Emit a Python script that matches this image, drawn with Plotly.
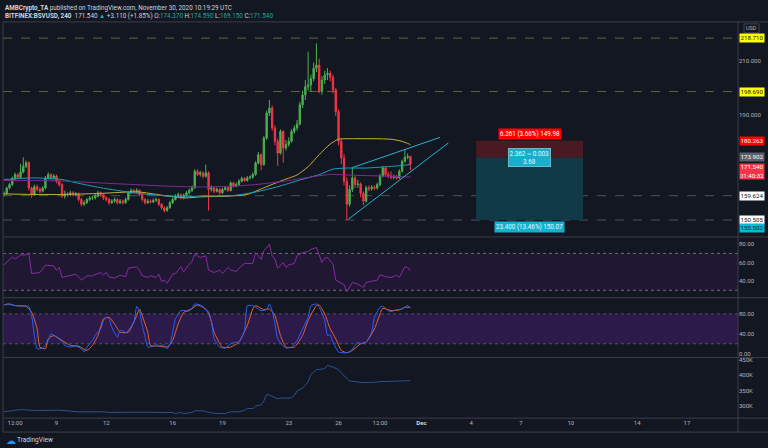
import pandas as pd
import plotly.graph_objects as go

W, H = 768, 448
BG = "#131722"
FONT = "Roboto"
AX = "#b2b5be"
SEP = "#3b3f4a"

# ---------------- data ----------------
closes = [
    160.5, 162.5, 163.8, 166.0, 167.5, 166.5, 168.5, 170.7, 172.0, 162.5,
    160.0, 163.0, 162.0, 161.3, 162.5, 166.3, 167.5, 166.3, 167.0, 165.0,
    163.8, 159.5, 160.3, 160.0, 160.7, 160.0, 160.3, 158.2, 156.4, 157.0,
    158.2, 158.8, 158.8, 159.5, 160.7, 160.0, 158.8, 158.2, 157.0, 157.6,
    158.2, 157.0, 157.6, 157.0, 158.2, 160.7, 161.6, 161.1, 161.6, 160.0,
    158.2, 157.0, 157.6, 157.3, 157.9, 158.2, 156.4, 155.1, 154.1, 155.1,
    157.0, 158.2, 159.5, 160.0, 158.8, 159.8, 160.7, 161.6, 162.6, 168.8,
    167.6, 168.2, 166.9, 168.2, 162.0, 162.6, 161.3, 162.0, 160.7, 162.0,
    162.6, 161.6, 164.4, 163.2, 163.8, 165.1, 166.1, 165.3, 166.3, 166.6,
    167.6, 171.9, 175.0, 171.3, 181.2, 190.6, 192.5, 185.0, 180.0, 175.6,
    183.7, 177.5, 178.8, 180.0, 183.7, 185.0, 186.5, 193.7, 197.4, 200.5,
    201.2, 203.5, 207.4, 208.6, 198.7, 203.0, 204.9, 205.5, 204.0, 199.3,
    191.2, 180.0, 173.8, 165.0, 156.4, 162.0, 166.3, 163.8, 164.0, 160.5,
    157.6, 162.6, 162.2, 162.8, 162.5, 163.8, 167.0, 170.0, 167.6, 167.0,
    166.5, 166.8, 166.3, 168.8, 172.5, 174.0, 174.37, 171.54,
]
highs = [
    161.2, 163.0, 164.5, 166.8, 168.3, 168.0, 171.5, 174.0, 172.8, 172.5,
    163.0, 163.8, 163.8, 162.8, 163.2, 167.0, 168.4, 168.0, 167.8, 167.5,
    165.6, 164.3, 161.5, 161.0, 161.5, 161.3, 161.0, 160.8, 158.8, 157.8,
    158.8, 159.5, 159.6, 160.3, 161.5, 161.2, 160.5, 159.5, 158.8, 158.3,
    159.0, 158.7, 158.4, 158.2, 158.9, 161.3, 162.3, 162.2, 162.4, 162.0,
    160.4, 158.7, 158.4, 158.2, 158.6, 158.9, 158.6, 156.9, 155.6, 155.8,
    157.6, 158.9, 160.2, 160.8, 160.5, 160.4, 161.4, 162.3, 163.4, 169.6,
    169.5, 169.0, 168.8, 171.3, 168.8, 163.5, 163.0, 162.8, 162.4, 162.6,
    163.3, 163.0, 165.0, 164.9, 164.6, 165.8, 166.8, 166.6, 167.0, 167.3,
    168.4, 172.6, 176.0, 175.5, 182.0, 191.5, 195.5, 193.5, 186.0, 181.0,
    184.5, 184.2, 180.5, 181.5, 184.6, 186.0, 188.0, 194.8, 199.0, 203.0,
    213.6, 205.0, 209.5, 216.7, 211.0, 204.5, 206.5, 207.5, 206.5, 205.0,
    200.0, 192.0, 181.0, 175.3, 166.5, 163.5, 170.5, 167.0, 165.5, 164.6,
    161.2, 163.4, 163.5, 163.6, 163.5, 164.5, 167.8, 170.8, 170.6, 168.5,
    168.8, 167.6, 167.4, 169.5, 173.2, 176.9, 175.5, 174.59,
]
lows = [
    159.3, 160.0, 162.0, 163.3, 165.5, 165.8, 166.0, 168.0, 170.0, 161.5,
    158.8, 159.5, 161.3, 160.5, 160.8, 162.0, 165.8, 165.5, 165.9, 164.3,
    163.0, 158.8, 158.5, 159.2, 159.5, 159.4, 159.5, 157.5, 155.6, 155.8,
    156.5, 157.6, 158.0, 158.2, 159.0, 159.3, 158.0, 157.5, 156.2, 156.5,
    157.0, 156.3, 156.5, 156.3, 156.6, 157.8, 160.2, 160.5, 160.6, 159.4,
    157.5, 156.3, 156.5, 156.7, 156.8, 157.3, 155.7, 154.4, 153.4, 153.6,
    154.7, 156.5, 157.8, 159.0, 158.2, 158.3, 159.3, 160.2, 161.0, 162.2,
    167.0, 166.8, 166.2, 166.5, 154.0, 161.2, 160.6, 160.8, 160.0, 160.3,
    161.5, 161.0, 161.2, 162.7, 162.8, 163.4, 164.6, 164.8, 164.9, 165.8,
    166.0, 167.1, 171.4, 169.2, 170.8, 180.6, 189.5, 184.0, 178.5, 170.8,
    175.0, 172.0, 176.5, 178.0, 179.5, 182.8, 184.0, 186.0, 192.5, 195.5,
    199.0, 198.5, 202.5, 206.0, 198.0, 197.5, 201.5, 203.0, 202.5, 198.0,
    189.5, 178.5, 171.5, 163.5, 150.5, 155.5, 161.0, 162.5, 162.6, 159.0,
    156.0, 157.0, 161.3, 161.5, 161.8, 161.9, 163.2, 166.5, 166.8, 166.2,
    165.8, 165.8, 165.7, 165.9, 168.3, 172.0, 173.3, 169.15,
]
first_open = 160.0
opens = [first_open] + closes[:-1]

# moving averages (candle index, value)
ma_yellow_idx = [0, 10, 22, 35, 45, 49, 54, 59, 66, 71, 82, 88, 94, 101, 106, 110, 114, 118, 121, 126, 140, 144, 147]
ma_yellow_val = [160.3, 160.1, 160.1, 160.5, 161.0, 161.0, 160.3, 159.5, 158.8, 159.2, 159.5, 160.1, 162.6,
                 165.5, 167.4, 170.5, 175.0, 179.0, 180.8, 181.0, 180.8, 180.0, 178.8]
ma_teal_idx = [0, 10, 21, 26, 35, 47, 59, 65, 71, 83, 91, 99, 107, 114, 119, 124, 131, 141, 147]
ma_teal_val = [165.7, 166.3, 165.7, 164.5, 162.6, 160.7, 159.5, 159.2, 159.5, 159.7, 161.0, 163.0, 165.5,
               167.5, 169.6, 170.0, 170.0, 170.7, 171.3]
ma_purple_idx = [0, 10, 22, 35, 47, 59, 71, 83, 91, 101, 107, 118, 126, 140, 147]
ma_purple_val = [165.3, 165.3, 165.1, 164.4, 163.8, 163.2, 162.9, 163.2, 163.8, 165.0, 166.0, 167.6, 167.3,
                 166.9, 166.6]

rsi_idx = [0, 2, 3, 4, 6, 8, 9, 10, 13, 15, 18, 19, 20, 21, 24, 26, 28, 30, 32, 35, 36, 37, 38, 40, 42, 44,
           45, 48, 49, 50, 52, 53, 55, 56, 57, 58, 59, 61, 62, 64, 65, 67, 68, 69, 71, 73, 74, 76, 78, 79, 81,
           82, 84, 85, 87, 90, 91, 93, 94, 96, 97, 98, 99, 101, 102, 103, 105, 106, 108, 110, 111, 113, 115,
           116, 117, 119, 120, 122, 123, 124, 126, 128, 130, 131, 133, 135, 136, 138, 140, 142, 143, 145, 146, 147]
rsi_val = [57.3, 63.8, 66.3, 63.8, 68.4, 68.4, 69.9, 48.2, 49.3, 57.3, 56.5, 51.9, 54.7, 43.9, 46.1, 47.5,
           41.0, 45.4, 45.7, 49.3, 46.8, 49.3, 44.6, 43.2, 46.4, 44.6, 54.0, 55.5, 51.9, 45.7, 43.9, 45.7,
           43.9, 47.5, 39.6, 41.0, 37.4, 47.5, 48.2, 55.5, 50.0, 58.3, 60.9, 69.2, 65.6, 67.4, 51.9, 49.3,
           51.9, 48.2, 54.7, 51.9, 50.4, 54.0, 59.1, 59.1, 71.0, 63.7, 72.8, 80.0, 67.4, 63.7, 54.0, 60.1,
           54.7, 57.6, 59.1, 67.4, 71.0, 72.0, 74.6, 76.4, 60.1, 64.8, 65.6, 58.3, 41.0, 37.4, 36.0, 28.4,
           38.5, 36.7, 33.1, 38.5, 39.6, 41.0, 46.8, 44.6, 43.9, 46.4, 43.9, 55.5, 54.7, 51.1]

stoch_k_idx = [0, 1, 3, 6, 9, 10, 11, 12, 14, 16, 17, 19, 21, 22, 24, 26, 28, 29, 30, 32, 33, 35, 36, 37, 38,
               39, 41, 42, 43, 44, 45, 47, 48, 49, 50, 51, 52, 54, 55, 56, 58, 59, 60, 61, 62, 64, 66, 68, 69,
               71, 73, 75, 76, 78, 80, 82, 84, 85, 87, 88, 90, 91, 93, 95, 96, 97, 98, 99, 101, 102, 104, 106,
               108, 110, 111, 113, 114, 116, 117, 118, 119, 121, 123, 125, 127, 128, 129, 131, 133, 134, 136,
               137, 139, 140, 142, 144, 146, 147]
stoch_k_val = [97.9, 100.0, 97.9, 95.3, 95.3, 76.6, 36.6, 9.9, 11.3, 26.6, 39.9, 33.3, 24.6, 16.6, 13.3,
               15.3, 9.9, 3.3, 13.3, 26.6, 36.6, 49.9, 66.6, 73.3, 69.9, 53.3, 33.3, 46.6, 46.6, 41.9, 46.6,
               63.3, 95.0, 86.6, 56.6, 35.0, 13.3, 15.3, 19.9, 15.3, 17.9, 9.9, 17.9, 43.3, 69.9, 86.6, 86.6,
               91.3, 100.0, 97.9, 89.9, 66.6, 29.9, 13.3, 11.3, 19.9, 23.3, 23.3, 46.6, 96.6, 96.6, 93.3,
               86.6, 88.6, 100.0, 86.6, 59.9, 29.9, 15.3, 11.3, 13.3, 26.6, 49.9, 73.3, 96.6, 100.0, 93.3,
               66.6, 36.6, 37.9, 23.3, 3.3, 1.9, 3.3, 16.6, 23.3, 19.9, 23.3, 43.3, 73.3, 93.3, 95.3, 86.6,
               84.6, 88.6, 89.9, 96.6, 91.3]
stoch_d_idx = [0, 2, 4, 8, 10, 12, 13, 15, 16, 18, 21, 24, 27, 30, 32, 34, 36, 38, 40, 42, 45, 48, 49, 50,
               52, 53, 56, 59, 61, 63, 65, 67, 70, 72, 74, 76, 79, 82, 85, 88, 90, 91, 94, 96, 98, 100, 102,
               105, 108, 110, 113, 114, 116, 118, 120, 122, 124, 126, 129, 131, 134, 136, 137, 140, 143, 145, 147]
stoch_d_val = [97.9, 100.0, 96.6, 95.3, 83.3, 49.9, 13.3, 9.9, 29.9, 36.6, 26.6, 16.6, 15.3, 6.6, 16.6,
               36.6, 69.9, 73.3, 59.9, 43.3, 43.3, 76.6, 89.9, 76.6, 43.3, 16.6, 15.3, 13.3, 26.6, 59.9,
               83.3, 86.6, 97.9, 93.3, 83.3, 43.3, 13.3, 13.3, 23.3, 56.6, 89.9, 96.6, 88.6, 89.9, 76.6,
               36.6, 13.3, 13.3, 36.6, 66.6, 96.6, 97.9, 79.9, 49.9, 29.9, 6.6, 1.9, 6.6, 19.9, 23.3, 49.9,
               79.9, 91.3, 86.6, 87.9, 93.3, 93.3]

obv_idx = [0, 2, 4, 6, 9, 13, 20, 24, 27, 36, 38, 47, 61, 62, 64, 65, 68, 69, 72, 74, 77, 80, 82, 85, 87,
           88, 90, 91, 93, 94, 95, 96, 97, 99, 100, 104, 105, 106, 108, 110, 111, 113, 116, 117, 119, 121,
           122, 125, 126, 129, 130, 134, 136, 140, 147]
obv_val = [281.9, 285.1, 287.2, 289.4, 287.2, 286.2, 287.2, 285.1, 281.9, 281.9, 279.8, 280.8, 279.8, 276.6,
           279.8, 276.6, 279.8, 285.1, 285.1, 279.8, 276.6, 276.6, 281.9, 281.9, 287.2, 292.5, 292.5, 300.0,
           304.3, 317.0, 337.2, 336.2, 331.9, 323.4, 325.5, 326.6, 334.0, 348.9, 358.5, 377.7, 402.1, 417.0,
           420.2, 430.8, 425.5, 417.0, 406.4, 380.8, 379.8, 377.7, 375.5, 376.6, 378.7, 379.8, 381.9]

x_tick_dates = ["2020-11-06 12:00", "2020-11-09", "2020-11-12", "2020-11-16", "2020-11-19", "2020-11-23",
                "2020-11-26", "2020-11-28 12:00", "2020-12-01", "2020-12-04", "2020-12-07", "2020-12-10",
                "2020-12-14", "2020-12-17"]
x_tick_text = ["12:00", "9", "12", "16", "19", "23", "26", "12:00",
               "<b><span style='color:#d1d4dc'>Dec</span></b>", "4", "7", "10", "14", "17"]

level_yellow = [218.71, 198.69]
level_gray = [159.624, 150.505]

trend_upper = (["2020-11-26 21:36", "2020-12-02 02:50"], [170.3, 181.5])
trend_lower = (["2020-11-26 14:10", "2020-12-02 14:50"], [150.8, 179.4])

pos_dates = ["2020-12-04 07:00", "2020-12-10 17:45"]
pos_stop, pos_entry, pos_target = 180.263, 173.902, 150.502

# ---------------- helpers ----------------
start = pd.Timestamp("2020-11-05 20:00")


def t(i):
    return start + pd.Timedelta(hours=4 * i)


times = [t(i) for i in range(len(closes))]


def ydom(top, bottom):
    return [1 - bottom / H, 1 - top / H]


X0, X1 = 3 / W, 738 / W

fig = go.Figure()

GREEN = "#4caf50"
RED = "#f23645"

for idx, val, col in [(ma_yellow_idx, ma_yellow_val, "#c3b132"),
                      (ma_teal_idx, ma_teal_val, "#1f9fb3"),
                      (ma_purple_idx, ma_purple_val, "#7f2a94")]:
    fig.add_trace(go.Scatter(x=[t(i) for i in idx], y=val, mode="lines",
                             line=dict(color=col, width=1, shape="spline", smoothing=0.6),
                             xaxis="x", yaxis="y", hoverinfo="skip"))

fig.add_trace(go.Candlestick(
    x=times, open=opens, high=highs, low=lows, close=closes,
    increasing=dict(line=dict(color=GREEN, width=1), fillcolor=GREEN),
    decreasing=dict(line=dict(color=RED, width=1), fillcolor=RED),
    whiskerwidth=0, xaxis="x", yaxis="y"))

fig.add_trace(go.Scatter(x=[t(i) for i in rsi_idx], y=rsi_val, mode="lines",
                         line=dict(color="#8a2aa0", width=1), xaxis="x", yaxis="y2"))
fig.add_trace(go.Scatter(x=[t(i) for i in stoch_d_idx], y=stoch_d_val, mode="lines",
                         line=dict(color="#e8622c", width=1, shape="spline", smoothing=0.5), xaxis="x", yaxis="y3"))
fig.add_trace(go.Scatter(x=[t(i) for i in stoch_k_idx], y=stoch_k_val, mode="lines",
                         line=dict(color="#2962ff", width=1, shape="spline", smoothing=0.4), xaxis="x", yaxis="y3"))
fig.add_trace(go.Scatter(x=[t(i) for i in obv_idx], y=[v * 1000 for v in obv_val], mode="lines",
                         line=dict(color="#2a5290", width=1), xaxis="x", yaxis="y4"))

shapes = []
# RSI band
shapes.append(dict(type="rect", xref="x domain", x0=0, x1=1, yref="y2", y0=30, y1=70,
                   fillcolor="#201833", line_width=0, layer="below"))
for v in (70, 30):
    shapes.append(dict(type="line", xref="x domain", x0=0, x1=1, yref="y2", y0=v, y1=v,
                       line=dict(color="#6a6d78", width=1, dash="dot"), layer="below"))
# Stoch band
shapes.append(dict(type="rect", xref="x domain", x0=0, x1=1, yref="y3", y0=20, y1=80,
                   fillcolor="#2c1a4b", line_width=0, layer="below"))
for v in (80, 20):
    shapes.append(dict(type="line", xref="x domain", x0=0, x1=1, yref="y3", y0=v, y1=v,
                       line=dict(color="#5a4c6e", width=1, dash="dot"), layer="below"))
# position tool
shapes.append(dict(type="rect", xref="x", x0=pos_dates[0], x1=pos_dates[1], yref="y",
                   y0=pos_entry, y1=pos_stop, fillcolor="#4a1a22", line_width=0, layer="below"))
shapes.append(dict(type="rect", xref="x", x0=pos_dates[0], x1=pos_dates[1], yref="y",
                   y0=pos_target, y1=pos_entry, fillcolor="#0f3a46", line_width=0, layer="below"))
# horizontal levels
for v in level_yellow:
    shapes.append(dict(type="line", xref="x domain", x0=0, x1=1, yref="y", y0=v, y1=v,
                       line=dict(color="#66632a", width=1, dash="dash"), layer="below"))
for v in level_gray:
    shapes.append(dict(type="line", xref="x domain", x0=0, x1=1, yref="y", y0=v, y1=v,
                       line=dict(color="#4f525c", width=1, dash="dash"), layer="below"))
# trend lines
for xs, ys in (trend_upper, trend_lower):
    shapes.append(dict(type="line", xref="x", x0=xs[0], x1=xs[1], yref="y", y0=ys[0], y1=ys[1],
                       line=dict(color="#27b3cf", width=1), layer="above"))
# frame / separators
for yy in (20, 236, 297, 357, 418, 432):
    shapes.append(dict(type="line", xref="paper", yref="paper", x0=3 / W, x1=1, y0=1 - yy / H, y1=1 - yy / H,
                       line=dict(color=SEP, width=1), layer="above"))
for xx in (3, 738):
    shapes.append(dict(type="line", xref="paper", yref="paper", x0=xx / W, x1=xx / W, y0=1 - 432 / H,
                       y1=1 - 20 / H, line=dict(color=SEP, width=1), layer="above"))
# USD box
shapes.append(dict(type="rect", xref="paper", yref="paper", x0=744 / W, x1=759 / W, y0=1 - 31 / H,
                   y1=1 - 22 / H, line=dict(color="#434651", width=1), fillcolor=BG))

ann = []
ann.append(dict(xref="paper", yref="paper", x=3 / W, y=1 - 6 / H, xanchor="left", yanchor="middle",
                showarrow=False, font=dict(family=FONT, size=6.3, color="#d1d4dc"),
                text="<b>AMBCrypto_TA</b> published on TradingView.com, November 30, 2020 10:19:29 UTC"))
TEAL = "#26a69a"
ann.append(dict(xref="paper", yref="paper", x=3 / W, y=1 - 14 / H, xanchor="left", yanchor="middle",
                showarrow=False, font=dict(family=FONT, size=6.3, color="#d1d4dc"),
                text=("<b>BITFINEX:BSVUSD, 240</b>  171.540 <span style='color:%s'>▲</span> +3.110 (+1.85%%) "
                      "O:<span style='color:%s'>174.370</span> H:<span style='color:%s'>174.590</span> "
                      "L:<span style='color:%s'>169.150</span> C:<span style='color:%s'>171.540</span>")
                % (TEAL, TEAL, TEAL, TEAL, TEAL)))
ann.append(dict(xref="paper", yref="paper", x=751.5 / W, y=1 - 26.5 / H, xanchor="center", yanchor="middle",
                showarrow=False, text="USD", font=dict(family=FONT, size=5.5, color=AX)))

price_labels = [
    (218.71, "218.710", "#ffff00", "#131722", 0),
    (198.69, "198.690", "#ffff00", "#131722", 0),
    (180.263, "180.263", "#ff0000", "#ffffff", 0),
    (173.902, "173.902", "#5d606b", "#ffffff", 1),
    (159.624, "159.624", "#ffffff", "#131722", 0),
    (150.505, "150.505", "#ffffff", "#131722", 0),
    (150.502, "150.502", "#00bcd4", "#131722", -8),
]
for p, txt, bg, fg, ys in price_labels:
    ann.append(dict(xref="paper", yref="y", x=738.5 / W, y=p, xanchor="left", yanchor="middle",
                    showarrow=False, text=txt, bgcolor=bg, width=23, height=7, borderpad=0.5,
                    yshift=ys, font=dict(family=FONT, size=6.2, color=fg)))
ann.append(dict(xref="paper", yref="y", x=738.5 / W, y=closes[-1], xanchor="left", yanchor="top",
                showarrow=False, text="171.540<br>01:40:32", bgcolor="#f23645", width=23, height=14,
                borderpad=0.5, yshift=1.0, font=dict(family=FONT, size=6.2, color="#ffffff")))

mid = pd.Timestamp(pos_dates[0]) + (pd.Timestamp(pos_dates[1]) - pd.Timestamp(pos_dates[0])) / 2
ann.append(dict(xref="x", yref="y", x=mid, y=pos_stop, xanchor="center", yanchor="bottom", showarrow=False,
                text="6.361 (3.66%) 149.98", bgcolor="#ff0000", borderpad=1, yshift=0.5,
                font=dict(family=FONT, size=6.3, color="#ffffff")))
ann.append(dict(xref="x", yref="y", x=mid, y=pos_entry, xanchor="center", yanchor="middle", showarrow=False,
                text="2.362 ~ 0.003<br>3.68", bgcolor="#1aaecb", bordercolor="#9fdce9", borderwidth=0.6,
                borderpad=1, font=dict(family=FONT, size=6.3, color="#e6f7fb")))
ann.append(dict(xref="x", yref="y", x=mid, y=pos_target, xanchor="center", yanchor="top", showarrow=False,
                text="23.400 (13.46%) 150.07", bgcolor="#16b0cf", borderpad=1, yshift=-0.5,
                font=dict(family=FONT, size=6.3, color="#e6f7fb")))

ann.append(dict(xref="paper", yref="paper", x=4 / W, y=1 - 440 / H, xanchor="left", yanchor="middle",
                showarrow=False, text="☁", font=dict(family="DejaVu Sans", size=10, color="#2196f3")))
ann.append(dict(xref="paper", yref="paper", x=15 / W, y=1 - 440 / H, xanchor="left", yanchor="middle",
                showarrow=False, text="TradingView", font=dict(family=FONT, size=6.5, color="#d1d4dc")))

yax_common = dict(side="right", anchor="x", showgrid=False, zeroline=False, showline=False, ticks="",
                  tickfont=dict(family=FONT, size=6, color=AX), fixedrange=True)

fig.update_layout(
    width=W, height=H, margin=dict(l=0, r=0, t=0, b=0),
    paper_bgcolor=BG, plot_bgcolor=BG, showlegend=False,
    font=dict(family=FONT, color=AX),
    xaxis=dict(domain=[X0, X1], anchor="y4", type="date",
               range=["2020-11-05 18:36", "2020-12-20 01:55"],
               tickvals=x_tick_dates, ticktext=x_tick_text, showgrid=False, zeroline=False, showline=False,
               ticks="", tickfont=dict(family=FONT, size=6, color=AX), rangeslider=dict(visible=False)),
    yaxis=dict(domain=ydom(20, 236), range=[144.16, 224.79], tickvals=[190, 210], tickformat=".3f",
               **yax_common),
    yaxis2=dict(domain=ydom(236, 297), range=[21.95, 87.9], tickvals=[40, 60, 80], tickformat=".2f",
                **yax_common),
    yaxis3=dict(domain=ydom(297, 357), range=[-7.4, 112.6], tickvals=[0, 40, 80], tickformat=".2f",
                **yax_common),
    yaxis4=dict(domain=ydom(357, 418), range=[261700, 456400], tickvals=[300000, 350000, 400000, 450000],
                ticktext=["300K", "350K", "400K", "450K"], **yax_common),
    shapes=shapes, annotations=ann,
)

fig.write_html("out.html", config={"displayModeBar": False},
               post_script="document.body.style.margin='0';document.body.style.padding='0';"
                           "document.body.style.overflow='hidden';document.body.style.background='%s';" % BG)
